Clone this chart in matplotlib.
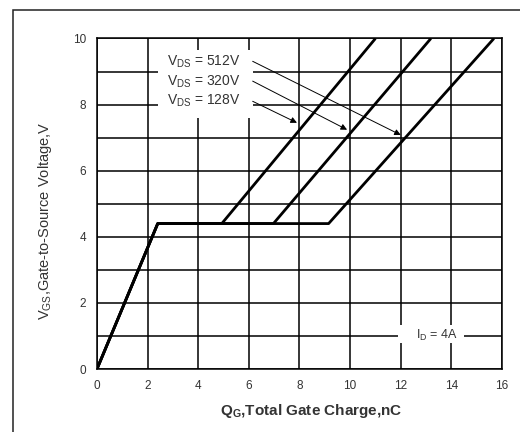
import matplotlib.pyplot as plt
from matplotlib.patches import Rectangle

plt.rcParams['font.family'] = ['Liberation Sans', 'DejaVu Sans']

# gate charge curves
q_128 = [0, 2.4, 4.93, 11.0]
v_128 = [0, 4.4, 4.4, 10]
q_320 = [0, 2.4, 6.97, 13.19]
v_320 = [0, 4.4, 4.4, 10]
q_512 = [0, 2.4, 9.15, 15.68]
v_512 = [0, 4.4, 4.4, 10]

labels = ['$\\mathregular{V_{DS}}$ = 512V', '$\\mathregular{V_{DS}}$ = 320V', '$\\mathregular{V_{DS}}$ = 128V']
label_pos = [(2.75, 9.3), (2.75, 8.7), (2.75, 8.1)]
arrow_start = [(6.15, 9.31), (6.15, 8.71), (6.15, 8.1)]
arrow_end = [(12.0, 7.08), (9.88, 7.24), (7.9, 7.45)]

xticks = [0, 2, 4, 6, 8, 10, 12, 14, 16]
yticks = [0, 2, 4, 6, 8, 10]

fig = plt.figure(figsize=(5.2, 4.32), dpi=100)
fig.add_artist(Rectangle((0.025, -0.1), 1.2, 1.077, transform=fig.transFigure,
                         fill=False, ec='#222222', lw=1.1))
ax = fig.add_axes([0.1865, 0.1458, 0.7789, 0.7651])

for x in range(0, 17, 2):
    ax.axvline(x, color='black', lw=1.1, zorder=1)
for y in range(0, 11):
    ax.axhline(y, color='black', lw=1.1, zorder=1)

for q, v in [(q_128, v_128), (q_320, v_320), (q_512, v_512)]:
    ax.plot(q, v, color='black', lw=2.0, zorder=3, solid_capstyle='butt')

for txt, (tx, ty) in zip(labels, label_pos):
    ax.text(tx, ty, txt, fontsize=10, color='#333333', va='center', ha='left', zorder=4)
ax.add_patch(Rectangle((2.4, 7.6), 3.75, 2.05, fc='white', ec='none', zorder=2))
for s, e in zip(arrow_start, arrow_end):
    ax.annotate('', xy=e, xytext=s,
                arrowprops=dict(arrowstyle='-|>', lw=0.7, color='black', mutation_scale=9,
                                shrinkA=0, shrinkB=0), zorder=5)

ax.add_patch(Rectangle((11.9, 0.78), 2.6, 0.55, fc='white', ec='none', zorder=2))
ax.text(12.6, 1.02, '$\\mathregular{I_D}$ = 4A', fontsize=9, color='#333333',
        va='center', ha='left', zorder=4)

ax.set_xlim(0, 16)
ax.set_ylim(0, 10)
ax.set_xticks(xticks)
ax.set_yticks(yticks)
ax.tick_params(length=0, labelsize=8.5, labelcolor='#333333', pad=8)
for sp in ax.spines.values():
    sp.set_color('black')
    sp.set_linewidth(1.1)

ax.set_xlabel('$\\mathregular{Q_G}$,Total Gate Charge,nC', fontsize=11, fontweight='bold',
              color='#333333')
ax.xaxis.set_label_coords(0.53, -0.1)
ax.set_ylabel('$\\mathregular{V_{GS}}$,Gate-to-Source Voltage,V', fontsize=10.5,
              color='#333333')
ax.yaxis.set_label_coords(-0.105, 0.45)

fig.savefig('out.png', dpi=100)
